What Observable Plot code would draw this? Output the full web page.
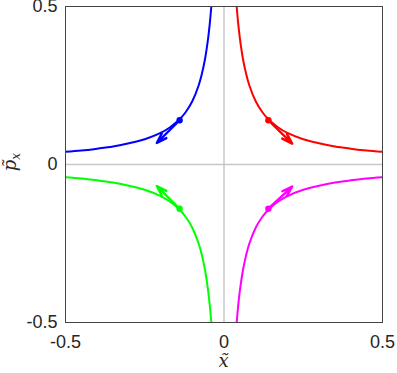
<!DOCTYPE html>
<html><head><meta charset="utf-8">
<script src="https://cdn.jsdelivr.net/npm/d3@7"></script>
<script src="https://cdn.jsdelivr.net/npm/@observablehq/plot@0.6"></script>
<style>body{margin:0;background:#fff;} svg{display:block;overflow:visible;}</style>
</head><body><div id="chart"></div>
<script>
// magnitudes read along one branch of the curves (|x|, |p|)
const branchX = [0.04, 0.045, 0.05, 0.06, 0.07, 0.08, 0.1, 0.12, 0.14, 0.17, 0.2, 0.25, 0.3, 0.35, 0.4, 0.45, 0.5];
const branchP = [0.5, 0.444, 0.4, 0.333, 0.286, 0.25, 0.2, 0.167, 0.143, 0.118, 0.1, 0.08, 0.067, 0.057, 0.05, 0.044, 0.04];
const seriesNames = ["upper-left", "upper-right", "lower-left", "lower-right"];
const seriesSignX = [-1, 1, -1, 1];
const seriesSignP = [1, 1, -1, -1];
const seriesColors = ["#0000ff", "#ff0000", "#00ff00", "#ff00ff"];
// marked points and arrow tips
const dotX = [-0.14, 0.14, -0.14, 0.14];
const dotP = [0.14, 0.14, -0.14, -0.14];
const tipX = [-0.212, 0.215, -0.212, 0.215];
const tipP = [0.068, 0.066, -0.068, -0.07];
const ticks = [-0.5, 0, 0.5];

const lines = [];
seriesNames.forEach((s, i) => branchX.forEach((x, j) => lines.push({s, x: seriesSignX[i] * x, p: seriesSignP[i] * branchP[j]})));
const pts = seriesNames.map((s, i) => ({s, x: dotX[i], p: dotP[i], x2: tipX[i], p2: tipP[i]}));
const fmt = d => d === 0 ? "0" : String(d);

const chart = Plot.plot({
  width: 397, height: 373,
  marginLeft: 65, marginRight: 15, marginTop: 6, marginBottom: 51,
  style: {fontFamily: "Liberation Sans, Arial, sans-serif", color: "#262626", overflow: "visible"},
  x: {domain: [-0.5, 0.5]},
  y: {domain: [-0.5, 0.5]},
  color: {domain: seriesNames, range: seriesColors},
  marks: [
    Plot.axisX({ticks, tickFormat: fmt, tickSize: 0, tickPadding: 13, label: null, fontSize: 18, fill: "#262626"}),
    Plot.axisY({ticks, tickFormat: fmt, tickSize: 0, tickPadding: 8, label: null, fontSize: 18, fill: "#262626"}),
    Plot.ruleX([0], {stroke: "#c8c8c8", strokeWidth: 1.5}),
    Plot.ruleY([0], {stroke: "#c8c8c8", strokeWidth: 1.5}),
    Plot.line(lines, {x: "x", y: "p", z: "s", stroke: "s", strokeWidth: 2, curve: "catmull-rom", clip: true}),
    Plot.arrow(pts, {x1: "x", y1: "p", x2: "x2", y2: "p2", stroke: "s", strokeWidth: 2.4, headLength: 9, headAngle: 35}),
    Plot.dot(pts, {x: "x", y: "p", fill: "s", r: 3.2}),
    Plot.frame({stroke: "#444", strokeWidth: 1})
  ]
});
document.getElementById("chart").appendChild(chart);

const svg = d3.select(chart);
svg.append("text").attr("x", 223.5).attr("y", 367).attr("text-anchor", "middle")
  .attr("font-family", "DejaVu Serif, serif").attr("font-style", "italic").attr("font-size", 18).attr("fill", "#262626")
  .text("x\u0303");
const yl = svg.append("text").attr("transform", "translate(16,162) rotate(-90)").attr("text-anchor", "middle")
  .attr("font-family", "DejaVu Serif, serif").attr("font-style", "italic").attr("font-size", 18).attr("fill", "#262626");
yl.append("tspan").text("p\u0303");
yl.append("tspan").attr("font-size", 12).attr("dy", 4).text("x");
</script></body></html>
